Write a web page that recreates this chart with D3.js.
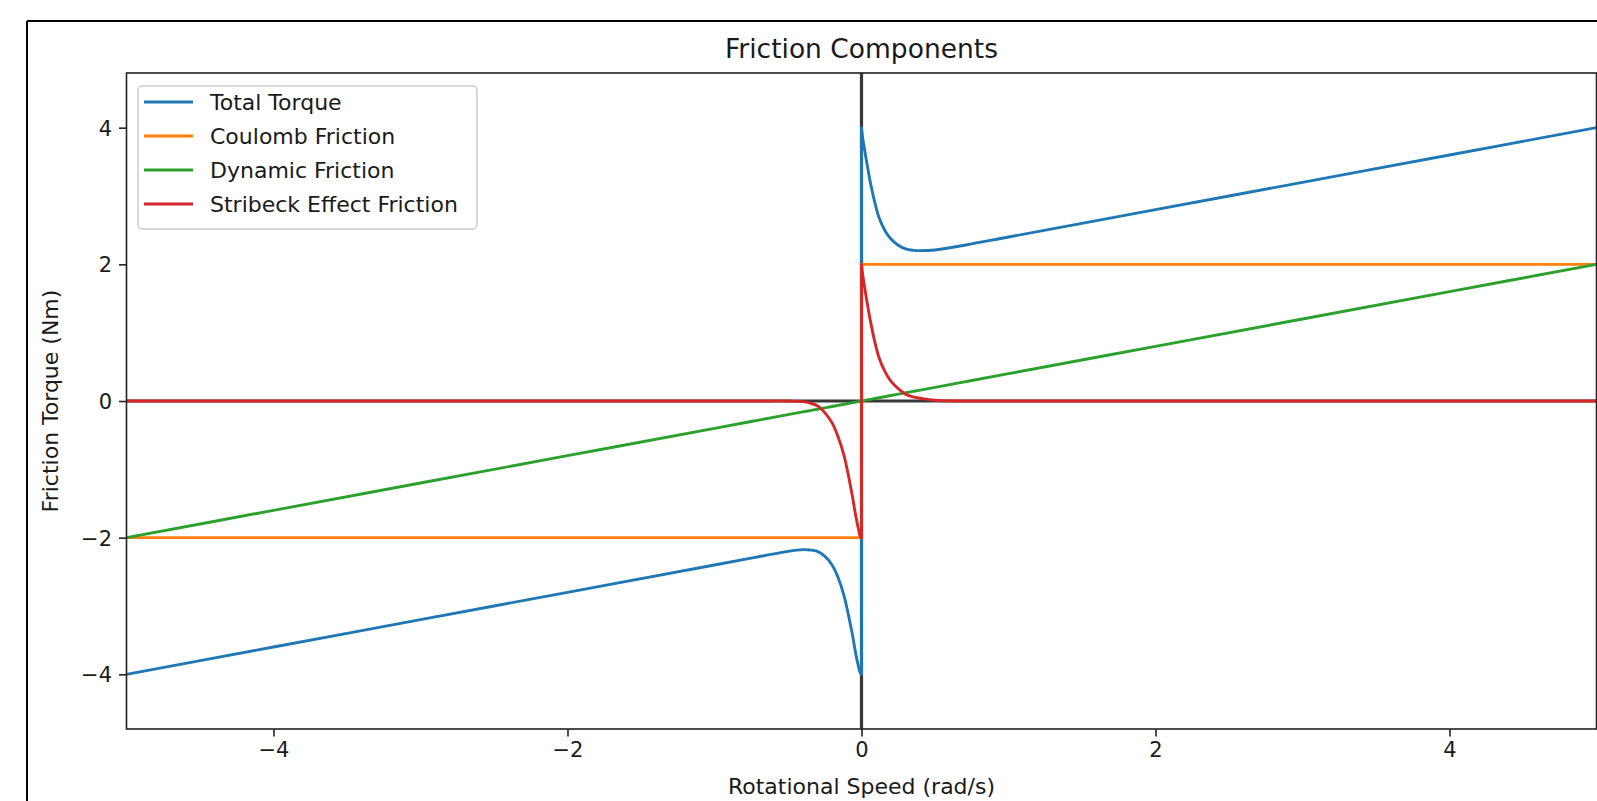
<!DOCTYPE html>
<html>
<head>
<meta charset="utf-8">
<script src="https://cdn.jsdelivr.net/npm/d3@7"></script>
<style>
  body { margin: 0; background: #fff; }
  text { font-family: "DejaVu Sans", sans-serif; fill: #1a1a1a; }
</style>
</head>
<body>
<script>
// rotational speed samples (rad/s), 0 appears twice for the jump at standstill
const speed = [-5, -4, -3, -2, -1, -0.7, -0.5, -0.4, -0.35, -0.3, -0.25, -0.2, -0.16, -0.12, -0.09, -0.06, -0.04, -0.02, -0.01, 0,
               0, 0.01, 0.02, 0.04, 0.06, 0.09, 0.12, 0.16, 0.2, 0.25, 0.3, 0.35, 0.4, 0.5, 0.7, 1, 2, 3, 4, 5];

const totalTorque = [-4.00, -3.60, -3.20, -2.80, -2.40, -2.28, -2.20, -2.175, -2.18, -2.20, -2.27, -2.40, -2.58, -2.84, -3.12, -3.44, -3.69, -3.89, -3.97, -4.00,
                     4.00, 3.82, 3.69, 3.44, 3.20, 2.91, 2.68, 2.49, 2.37, 2.28, 2.225, 2.205, 2.20, 2.21, 2.28, 2.40, 2.80, 3.20, 3.60, 4.00];

const coulomb = [-2, -2, -2, -2, -2, -2, -2, -2, -2, -2, -2, -2, -2, -2, -2, -2, -2, -2, -2, -2,
                 2, 2, 2, 2, 2, 2, 2, 2, 2, 2, 2, 2, 2, 2, 2, 2, 2, 2, 2, 2];

const dynamic = [-2.00, -1.60, -1.20, -0.80, -0.40, -0.28, -0.20, -0.16, -0.14, -0.12, -0.10, -0.08, -0.064, -0.048, -0.036, -0.024, -0.016, -0.008, -0.004, 0.00,
                 0.00, 0.004, 0.008, 0.016, 0.024, 0.036, 0.048, 0.064, 0.08, 0.10, 0.12, 0.14, 0.16, 0.20, 0.28, 0.40, 0.80, 1.20, 1.60, 2.00];

const stribeck = [0, 0, 0, 0, 0, 0.00, 0.00, -0.01, -0.03, -0.07, -0.17, -0.32, -0.52, -0.79, -1.08, -1.42, -1.67, -1.88, -1.97, -2.00,
                  2.00, 1.82, 1.68, 1.42, 1.18, 0.87, 0.63, 0.43, 0.29, 0.18, 0.10, 0.06, 0.04, 0.01, 0.00, 0, 0, 0, 0, 0];

const seriesNames = ["Total Torque", "Coulomb Friction", "Dynamic Friction", "Stribeck Effect Friction"];
const seriesColors = ["#1f77b4", "#ff7f0e", "#2ca02c", "#d62728"];
const xTicks = [-4, -2, 0, 2, 4];
const yTicks = [-4, -2, 0, 2, 4];

const W = 1597, H = 801;
const plot = { left: 126.5, right: 1596.5, top: 73, bottom: 729 };

const svg = d3.select("body").append("svg")
    .attr("width", W)
    .attr("height", H);

// outer frame of the screenshot
svg.append("line").attr("x1", 27).attr("y1", 21).attr("x2", W).attr("y2", 21)
    .attr("stroke", "#000").attr("stroke-width", 2);
svg.append("line").attr("x1", 27).attr("y1", 21).attr("x2", 27).attr("y2", H)
    .attr("stroke", "#000").attr("stroke-width", 2);

const x = d3.scaleLinear().domain([-5, 5]).range([plot.left, plot.right]);
const y = d3.scaleLinear().domain([-4.8, 4.8]).range([plot.bottom, plot.top]);

svg.append("clipPath").attr("id", "clip")
    .append("rect")
    .attr("x", plot.left).attr("y", plot.top)
    .attr("width", plot.right - plot.left).attr("height", plot.bottom - plot.top);

const g = svg.append("g").attr("clip-path", "url(#clip)");

// zero reference lines
g.append("line")
    .attr("x1", x(0)).attr("x2", x(0))
    .attr("y1", plot.top).attr("y2", plot.bottom)
    .attr("stroke", "#000").attr("stroke-opacity", 0.78).attr("stroke-width", 3.2);
g.append("line")
    .attr("x1", plot.left).attr("x2", plot.right)
    .attr("y1", y(0)).attr("y2", y(0))
    .attr("stroke", "#000").attr("stroke-opacity", 0.78).attr("stroke-width", 3.2);

const allSeries = [totalTorque, coulomb, dynamic, stribeck];
const zeroA = speed.indexOf(0);
const zeroB = speed.lastIndexOf(0);

const line = d3.line()
    .x(d => x(d[0]))
    .y(d => y(d[1]))
    .curve(d3.curveCatmullRom.alpha(0.5));

allSeries.forEach((vals, k) => {
    const pts = speed.map((s, i) => [s, vals[i]]);
    const neg = pts.slice(0, zeroA + 1);
    const pos = pts.slice(zeroB);
    const path = line(neg) + "L" + x(pos[0][0]) + "," + y(pos[0][1]) + line(pos).replace(/^M/, "L");
    g.append("path")
        .attr("d", path)
        .attr("fill", "none")
        .attr("stroke", seriesColors[k])
        .attr("stroke-width", 2.9)
        .attr("stroke-linejoin", "round");
});

// axes
const xAxis = svg.append("g")
    .attr("transform", "translate(0," + plot.bottom + ")")
    .call(d3.axisBottom(x).tickValues(xTicks).tickSize(7.5).tickPadding(6).tickSizeOuter(0));
const yAxis = svg.append("g")
    .attr("transform", "translate(" + plot.left + ",0)")
    .call(d3.axisLeft(y).tickValues(yTicks).tickSize(7.5).tickPadding(7).tickSizeOuter(0));

[xAxis, yAxis].forEach(a => {
    a.select(".domain").remove();
    a.selectAll(".tick line").attr("stroke", "#222").attr("stroke-width", 1.6);
    a.selectAll(".tick text")
        .style("font-family", "DejaVu Sans, sans-serif")
        .style("font-size", "21px")
        .attr("fill", "#1a1a1a");
});
yAxis.selectAll(".tick text").attr("dy", "0.36em");

// spines
svg.append("rect")
    .attr("x", plot.left).attr("y", plot.top)
    .attr("width", plot.right - plot.left).attr("height", plot.bottom - plot.top)
    .attr("fill", "none")
    .attr("stroke", "#222")
    .attr("stroke-width", 1.6);

// title and axis labels
svg.append("text")
    .attr("x", (plot.left + plot.right) / 2)
    .attr("y", 58)
    .attr("text-anchor", "middle")
    .style("font-size", "26.5px")
    .text("Friction Components");

svg.append("text")
    .attr("x", (plot.left + plot.right) / 2)
    .attr("y", 794)
    .attr("text-anchor", "middle")
    .style("font-size", "22px")
    .text("Rotational Speed (rad/s)");

svg.append("text")
    .attr("transform", "translate(58," + ((plot.top + plot.bottom) / 2) + ") rotate(-90)")
    .attr("text-anchor", "middle")
    .style("font-size", "22px")
    .text("Friction Torque (Nm)");

// legend
const legend = svg.append("g").attr("transform", "translate(138,86)");
legend.append("rect")
    .attr("width", 339).attr("height", 143)
    .attr("rx", 4)
    .attr("fill", "#fff").attr("fill-opacity", 0.8)
    .attr("stroke", "#ccc").attr("stroke-width", 1.5);

seriesNames.forEach((name, i) => {
    const row = legend.append("g").attr("transform", "translate(0," + (16 + i * 34) + ")");
    row.append("line")
        .attr("x1", 6).attr("x2", 55)
        .attr("stroke", seriesColors[i]).attr("stroke-width", 2.9);
    row.append("text")
        .attr("x", 72).attr("dy", "0.36em")
        .style("font-size", "22px")
        .text(name);
});
</script>
</body>
</html>
